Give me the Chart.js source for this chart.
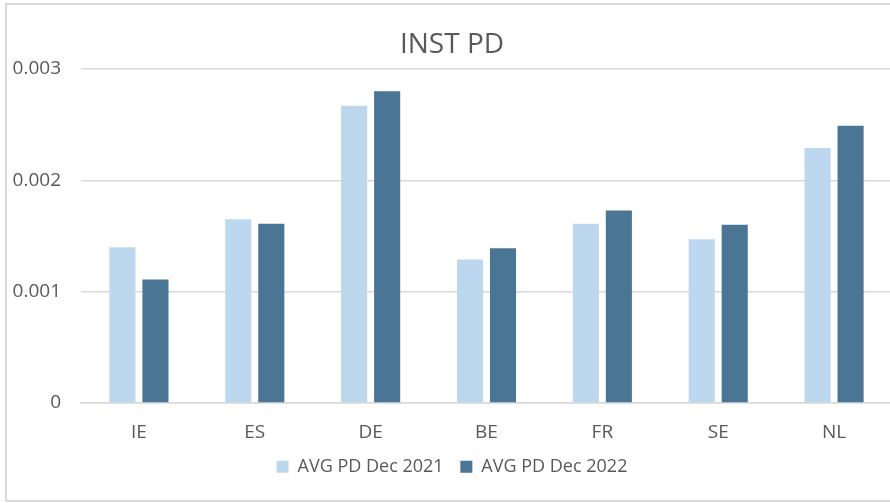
<!DOCTYPE html>
<html>
<head>
<meta charset="utf-8">
<script src="https://cdn.jsdelivr.net/npm/chart.js@4.4.0/dist/chart.umd.min.js"></script>
<style>
  html, body { margin: 0; padding: 0; background: #fff; overflow: hidden; width: 890px; height: 503px; }
  #frame { position: absolute; left: 5px; top: 3px; width: 1000px; height: 495px; border: 2px solid #d9d9d9; }
  #wrap { position: absolute; left: 0; top: 0; width: 900px; height: 503px; }
</style>
</head>
<body>
<div id="frame"></div>
<div id="wrap"><canvas id="pd-chart" width="900" height="503"></canvas></div>
<script>
// chart values
const countries = ["IE", "ES", "DE", "BE", "FR", "SE", "NL"];
const pd2021 = [0.00140, 0.00165, 0.00267, 0.00129, 0.00161, 0.00147, 0.00229];
const pd2022 = [0.00111, 0.00161, 0.00280, 0.00139, 0.00173, 0.00160, 0.00249];
const yTicks = [0, 0.001, 0.002, 0.003];

const textColor = "#595959";
const fontFamily = "'Open Sans', 'Liberation Sans', sans-serif";

const ctx = document.getElementById("pd-chart").getContext("2d");

let pdChart = new Chart(ctx, {
  type: 'bar',
  data: {
    labels: countries,
    datasets: [{
      label: 'AVG PD Dec 2021',
      data: pd2021,
      backgroundColor: '#BDD7EE',
      categoryPercentage: 0.57,
      barPercentage: 0.79
    }, {
      label: 'AVG PD Dec 2022',
      data: pd2022,
      backgroundColor: '#4A7594',
      categoryPercentage: 0.57,
      barPercentage: 0.79
    }]
  },
  options: {
    responsive: false,
    animation: false,
    layout: {
      padding: { left: 12, right: 8, top: 0, bottom: 17.3 }
    },
    plugins: {
      title: {
        display: true,
        text: 'INST PD',
        color: textColor,
        font: { family: fontFamily, size: 28, weight: 'normal', lineHeight: 1.2 },
        padding: { top: 28, bottom: 7.4 }
      },
      legend: {
        position: 'bottom',
        labels: {
          color: textColor,
          font: { family: fontFamily, size: 18 },
          boxWidth: 12,
          boxHeight: 12,
          padding: 16.7
        }
      },
      tooltip: { enabled: false }
    },
    scales: {
      x: {
        grid: { display: false, drawTicks: false },
        border: { display: true, color: '#d9d9d9', width: 1.5 },
        ticks: {
          color: textColor,
          font: { family: fontFamily, size: 19, lineHeight: 1.2 },
          padding: 18.6
        },
        // keep the axis box tight so the legend sits close under the labels
        afterFit: (scale) => { scale.height = 38; }
      },
      y: {
        min: 0,
        max: 0.003,
        afterBuildTicks: (scale) => { scale.ticks = yTicks.map(v => ({ value: v })); },
        grid: { color: '#d9d9d9', lineWidth: 1.5, drawTicks: false },
        border: { display: false },
        ticks: {
          color: textColor,
          font: { family: fontFamily, size: 19 },
          padding: 20,
          callback: (v) => String(v)
        },
        afterFit: (scale) => { scale.width = 69; }
      }
    }
  }
});
</script>
</body>
</html>
